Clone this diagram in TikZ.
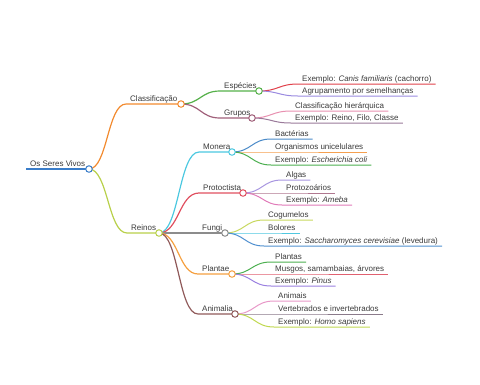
\documentclass[tikz,border=0pt]{standalone}
\usepackage{fontspec}
\setmainfont{Liberation Sans}
\usetikzlibrary{calc,backgrounds}
\definecolor{txtgray}{HTML}{3A3A3A}
\definecolor{cRoot}{HTML}{3A7DC9}
\definecolor{cClass}{HTML}{F28A2E}
\definecolor{cReinos}{HTML}{B8D04A}
\definecolor{cEsp}{HTML}{55B049}
\definecolor{cGrup}{HTML}{A0607A}
\definecolor{cCanis}{HTML}{E0404A}
\definecolor{cAgrup}{HTML}{9A8AE0}
\definecolor{cHier}{HTML}{E890B0}
\definecolor{cFilo}{HTML}{9A7A9A}
\definecolor{cMonera}{HTML}{4CC8E0}
\definecolor{cBact}{HTML}{4A8AC8}
\definecolor{cOrg}{HTML}{F5A050}
\definecolor{cColi}{HTML}{4CAF50}
\definecolor{cProt}{HTML}{E05060}
\definecolor{cAlgas}{HTML}{A896E0}
\definecolor{cProtz}{HTML}{B07890}
\definecolor{cAmeba}{HTML}{E07AB8}
\definecolor{cFungi}{HTML}{8C8C8C}
\definecolor{cCogu}{HTML}{C8D860}
\definecolor{cBolo}{HTML}{50C8E0}
\definecolor{cSacc}{HTML}{5090D0}
\definecolor{cPlantae}{HTML}{F5A040}
\definecolor{cPlantas}{HTML}{4CAF50}
\definecolor{cMusg}{HTML}{E06070}
\definecolor{cPinus}{HTML}{9A80E0}
\definecolor{cAnim}{HTML}{905A5A}
\definecolor{cAnimais}{HTML}{E898C8}
\definecolor{cVert}{HTML}{8A7A8A}
\definecolor{cHomo}{HTML}{C0D850}

\begin{document}
\begin{tikzpicture}[
  x=1pt, y=-1pt,
  font=\fontsize{8}{9.5}\selectfont,
  lbl/.style  = {anchor=south west, text=txtgray, inner xsep=4pt,
                 inner ysep=0.6pt, text height=6pt, text depth=1.8pt},
  knot/.style = {circle, draw=#1, fill=white, inner sep=0pt,
                 minimum size=6.5pt, line width=1pt},
  edge/.style = {line width=1.2pt, draw=#1},
  twig/.style = {line width=1pt, draw=#1},
  curvy/.style = {to path={let \p1=(\tikztostart), \p2=(\tikztotarget) in
                  .. controls (\x1/2+\x2/2,\y1) and (\x1/2+\x2/2,\y2) .. (\tikztotarget)}}
]
\useasboundingbox (0,0) rectangle (480,384);

\node[lbl] (root) at (26,169) {Os Seres Vivos};
\node[knot=cRoot] (rootk) at (89,169) {};

\node[lbl] (classif) at (126,104) {Classificação};
\node[knot=cClass] (classifk) at (181,104) {};
\node[lbl] (reinos) at (127,233) {Reinos};
\node[knot=cReinos] (reinosk) at (159,233) {};

\node[lbl] (esp) at (220,91) {Espécies};
\node[knot=cEsp] (espk) at (259,91) {};
\node[lbl] (grup) at (220,118) {Grupos};
\node[knot=cGrup] (grupk) at (252,118) {};

\node[lbl] (canis) at (298,84) {Exemplo: \textit{Canis familiaris} (cachorro)};
\node[lbl] (agrup) at (298,96) {Agrupamento por semelhanças};
\node[lbl] (hier) at (291,111) {Classificação hierárquica};
\node[lbl] (filo) at (291,123) {Exemplo: Reino, Filo, Classe};

\node[lbl] (monera) at (199,152) {Monera};
\node[knot=cMonera] (monerak) at (232,152) {};
\node[lbl] (bact) at (271,139) {Bactérias};
\node[lbl] (org) at (271,152) {Organismos unicelulares};
\node[lbl] (coli) at (271,165) {Exemplo: \textit{Escherichia coli}};

\node[lbl] (prot) at (199,193) {Protoctista};
\node[knot=cProt] (protk) at (243,193) {};
\node[lbl] (algas) at (282,180) {Algas};
\node[lbl] (protz) at (282,193) {Protozoários};
\node[lbl] (ameba) at (282,205) {Exemplo: \textit{Ameba}};

\node[lbl] (fungi) at (198,233) {Fungi};
\node[knot=cFungi] (fungik) at (225,233) {};
\node[lbl] (cogu) at (264,220) {Cogumelos};
\node[lbl] (bolo) at (264,233) {Bolores};
\node[lbl] (sacc) at (264,246) {Exemplo: \textit{Saccharomyces cerevisiae} (levedura)};

\node[lbl] (plantae) at (198,274) {Plantae};
\node[knot=cPlantae] (plantaek) at (232,274) {};
\node[lbl] (plantas) at (271,262) {Plantas};
\node[lbl] (musg) at (271,274) {Musgos, samambaias, árvores};
\node[lbl] (pinus) at (271,286) {Exemplo: \textit{Pinus}};

\node[lbl] (anim) at (198,314) {Animalia};
\node[knot=cAnim] (animk) at (235,314) {};
\node[lbl] (animais) at (274,301) {Animais};
\node[lbl] (vert) at (274,314) {Vertebrados e invertebrados};
\node[lbl] (homo) at (274,327) {Exemplo: \textit{Homo sapiens}};

\begin{scope}[on background layer]
\draw[edge=cRoot, line width=1.8pt] (root.south west) -- (rootk.center);

\draw[edge=cClass] (rootk.center) to[curvy] (classif.south west) -- (classifk.center);
\draw[edge=cReinos] (rootk.center) to[curvy] (reinos.south west) -- (reinosk.center);

\draw[edge=cEsp] (classifk.center) to[curvy] (esp.south west) -- (espk.center);
\draw[edge=cGrup] (classifk.center) to[curvy] (grup.south west) -- (grupk.center);
\draw[twig=cCanis] (espk.center) to[curvy] (canis.south west) -- (canis.south east);
\draw[twig=cAgrup] (espk.center) to[curvy] (agrup.south west) -- (agrup.south east);
\draw[twig=cHier] (grupk.center) to[curvy] (hier.south west) -- (hier.south east);
\draw[twig=cFilo] (grupk.center) to[curvy] (filo.south west) -- (filo.south east);

\draw[edge=cMonera] (reinosk.center) to[curvy] (monera.south west) -- (monerak.center);
\draw[edge=cProt] (reinosk.center) to[curvy] (prot.south west) -- (protk.center);
\draw[edge=cFungi] (reinosk.center) -- (fungi.south west) -- (fungik.center);
\draw[edge=cPlantae] (reinosk.center) to[curvy] (plantae.south west) -- (plantaek.center);
\draw[edge=cAnim] (reinosk.center) to[curvy] (anim.south west) -- (animk.center);

\draw[twig=cBact] (monerak.center) to[curvy] (bact.south west) -- (bact.south east);
\draw[twig=cOrg] (monerak.center) -- (org.south west) -- (org.south east);
\draw[twig=cColi] (monerak.center) to[curvy] (coli.south west) -- (coli.south east);

\draw[twig=cAlgas] (protk.center) to[curvy] (algas.south west) -- (algas.south east);
\draw[twig=cProtz] (protk.center) -- (protz.south west) -- (protz.south east);
\draw[twig=cAmeba] (protk.center) to[curvy] (ameba.south west) -- (ameba.south east);

\draw[twig=cCogu] (fungik.center) to[curvy] (cogu.south west) -- (cogu.south east);
\draw[twig=cBolo] (fungik.center) -- (bolo.south west) -- (bolo.south east);
\draw[twig=cSacc] (fungik.center) to[curvy] (sacc.south west) -- (sacc.south east);

\draw[twig=cPlantas] (plantaek.center) to[curvy] (plantas.south west) -- (plantas.south east);
\draw[twig=cMusg] (plantaek.center) -- (musg.south west) -- (musg.south east);
\draw[twig=cPinus] (plantaek.center) to[curvy] (pinus.south west) -- (pinus.south east);

\draw[twig=cAnimais] (animk.center) to[curvy] (animais.south west) -- (animais.south east);
\draw[twig=cVert] (animk.center) -- (vert.south west) -- (vert.south east);
\draw[twig=cHomo] (animk.center) to[curvy] (homo.south west) -- (homo.south east);
\end{scope}
\end{tikzpicture}
\end{document}
